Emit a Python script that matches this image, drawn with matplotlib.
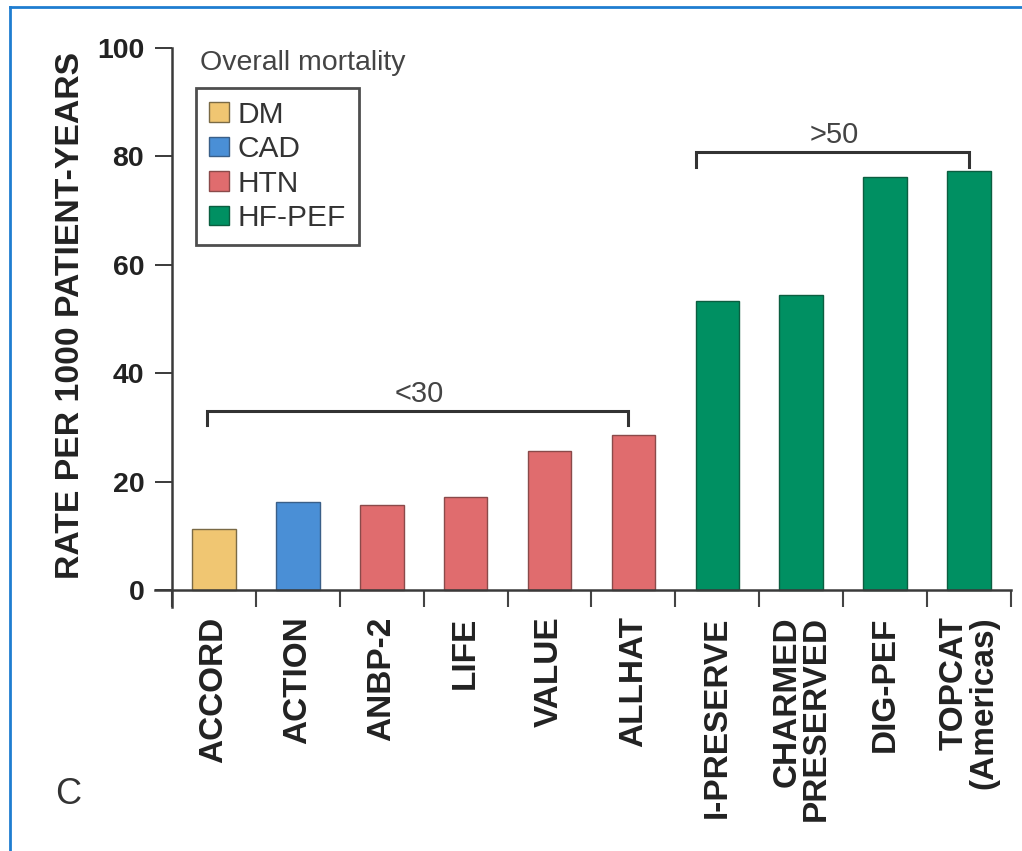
import matplotlib
matplotlib.use("Agg")
from matplotlib import pyplot as plt
from matplotlib.patches import Patch
from matplotlib.lines import Line2D

plt.rcParams['font.family'] = ['Liberation Sans', 'DejaVu Sans']

# datos
estudios = ["ACCORD", "ACTION", "ANBP-2", "LIFE", "VALUE", "ALLHAT",
            "I-PRESERVE", "CHARMED\nPRESERVED", "DIG-PEF", "TOPCAT\n(Americas)"]
tasas = [11.3, 16.2, 15.7, 17.2, 25.6, 28.6, 53.3, 54.4, 76.2, 77.3]
grupos = ["DM", "CAD", "HTN", "HTN", "HTN", "HTN", "HF-PEF", "HF-PEF", "HF-PEF", "HF-PEF"]
nombresGrupo = ["DM", "CAD", "HTN", "HF-PEF"]
coloresGrupo = {"DM": "#f0c672", "CAD": "#4a8fd6", "HTN": "#e06c6e", "HF-PEF": "#009062"}
bordesGrupo = {"DM": "#7a6a45", "CAD": "#3a5f88", "HTN": "#8a4a4a", "HF-PEF": "#0b5e40"}
yticks = [0, 20, 40, 60, 80, 100]

fig = plt.figure(figsize=(10.22, 8.51), dpi=100)
ax = fig.add_axes([0.1517, 0.2870, 0.8375, 0.6566])

x = list(range(len(estudios)))
ax.bar(x, tasas, width=0.52,
       color=[coloresGrupo[g] for g in grupos],
       edgecolor=[bordesGrupo[g] for g in grupos], linewidth=1.0, zorder=2)

ax.set_xlim(-0.702, 9.5)
ax.set_ylim(-3.1, 100)

# ejes
for s in ["top", "right"]:
    ax.spines[s].set_visible(False)
ax.spines["left"].set_position(("data", -0.5))
ax.spines["bottom"].set_position(("data", 0))
ax.spines["left"].set_bounds(-3.1, 100)
for s in ["left", "bottom"]:
    ax.spines[s].set_color("#3a3a3a")
    ax.spines[s].set_linewidth(1.8)

ax.set_yticks(yticks)
ax.set_yticklabels([str(v) for v in yticks], fontsize=20.5, fontweight="bold", color="#222222")
ax.tick_params(axis="y", length=12, width=1.4, color="#3a3a3a", pad=8)

# ticks mayores en los bordes, etiquetas en los centros
ax.set_xticks([i - 0.5 for i in range(len(estudios) + 1)])
ax.set_xticklabels([])
ax.tick_params(axis="x", which="major", length=12, width=1.5, color="#444444")
ax.set_xticks(x, minor=True)
ax.set_xticklabels(estudios, minor=True, rotation=90, fontsize=24, fontweight="bold",
                   color="#222222", ha="center", va="top", multialignment="right",
                   linespacing=0.92)
ax.tick_params(axis="x", which="minor", length=0, pad=19)

ax.set_ylabel("RATE PER 1000 PATIENT-YEARS", fontsize=24.3, fontweight="bold",
              color="#222222", va="center")
ax.yaxis.set_label_coords(-0.0993, 0.522)

# corchetes
def corchete(x1, x2, y, ybajo, texto):
    ax.plot([x1, x1, x2, x2], [ybajo, y, y, ybajo], color="#333333", lw=2.2,
            solid_joinstyle="miter", zorder=3)
    ax.text((x1 + x2) / 2 + 0.02, y + 0.6, texto, ha="center", va="bottom",
            fontsize=21, color="#444444")

corchete(-0.08, 4.93, 33.0, 30.4, "<30")
corchete(5.75, 9.0, 80.8, 78.0, ">50")

# leyenda
handles = [Patch(facecolor=coloresGrupo[g], edgecolor=bordesGrupo[g], linewidth=1.0, label=g)
           for g in nombresGrupo]
leg = fig.legend(handles=handles, loc="upper left", bbox_to_anchor=(196 / 1022, 1 - 88 / 851),
                 bbox_transform=fig.transFigure, fontsize=21.5, frameon=True, fancybox=False,
                 borderaxespad=0, borderpad=0.42, handlelength=0.68, handleheight=0.62,
                 handletextpad=0.3, labelspacing=0.22)
leg.get_frame().set_edgecolor("#222222")
leg.get_frame().set_linewidth(2.0)
for t in leg.get_texts():
    t.set_color("#333333")

fig.text(200 / 1022, 1 - 63 / 851, "Overall mortality", fontsize=20.5, color="#444444",
         ha="left", va="center")
fig.text(68 / 1022, 1 - 795 / 851, "C", fontsize=26, color="#333333", ha="center", va="center")

# marco azul (solo arriba e izquierda)
fig.add_artist(Line2D([9.5 / 1022, 1.0], [1 - 7 / 851, 1 - 7 / 851], color="#1f7dd0", lw=2.0,
                      transform=fig.transFigure))
fig.add_artist(Line2D([9.5 / 1022, 9.5 / 1022], [0, 1 - 7 / 851], color="#1f7dd0", lw=2.0,
                      transform=fig.transFigure))

fig.savefig("out.png", dpi=100)
